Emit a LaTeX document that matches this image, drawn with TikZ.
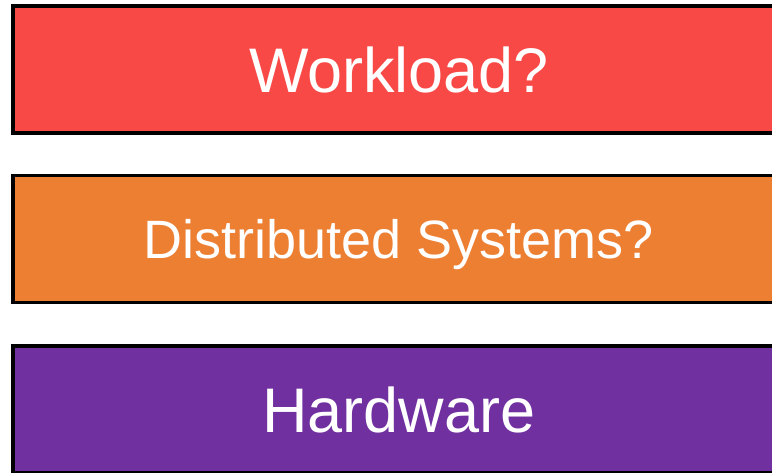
\documentclass[tikz,border=0pt]{standalone}
\usepackage{fontspec}
\setmainfont{Liberation Sans}
\definecolor{layerred}{RGB}{249,73,71}
\definecolor{layerorange}{RGB}{237,127,51}
\definecolor{layerpurple}{RGB}{112,48,160}
\tikzset{
  layer/.style={draw=black, line width=3.5pt, minimum width=772.5pt, minimum height=127pt,
    text=white, inner sep=0pt, text depth=0pt},
  bigtext/.style={font=\fontsize{63}{63}\selectfont, text height=45pt},
  midtext/.style={font=\fontsize{54}{54}\selectfont, text height=38.7pt}
}
\begin{document}
\begin{tikzpicture}[x=1pt, y=1pt]
			%%%%% START %%%%%
			\useasboundingbox (0, 0) rectangle (772, -472);
			\clip (0, 0) rectangle (772, -472);
			
			\node[layer, bigtext, fill=layerred] (workload) at (399, -69.5) {Workload?};
			
			\node[layer, midtext, fill=layerorange] (distsys) at (399, -239) {Distributed Systems?};
			
			\node[layer, bigtext, fill=layerpurple] (hardware) at (399, -409.5) {Hardware};
			
			%%%%% END %%%%%
\end{tikzpicture}
\end{document}
